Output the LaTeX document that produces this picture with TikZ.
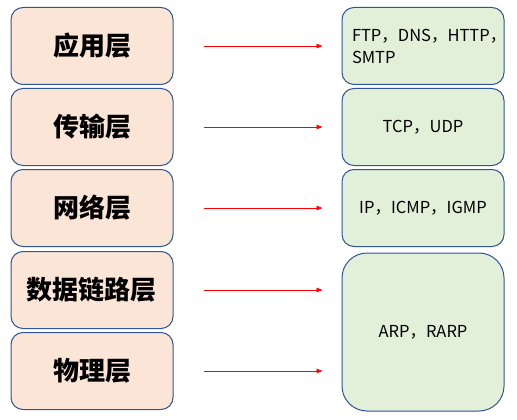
\documentclass[tikz,border=0pt]{standalone}
\usepackage{fontspec}
\setmainfont{Noto Sans CJK SC}
\usetikzlibrary{arrows.meta}
\definecolor{layerfill}{HTML}{FBE5D6}
\definecolor{protofill}{HTML}{E2F0D9}
\definecolor{boxline}{HTML}{2F5597}
\tikzset{
  layer/.style={draw=boxline,fill=layerfill,line width=1pt,rounded corners=12pt,
    minimum width=162pt,minimum height=77pt,font=\fontsize{26}{30}\selectfont\bfseries},
  proto/.style={draw=boxline,fill=protofill,line width=1pt,rounded corners=12pt,
    minimum width=162pt,minimum height=77pt,font=\fontsize{16.5}{22}\selectfont},
  arr/.style={-{Triangle[length=6pt,width=4.5pt]},red,line width=0.8pt,
    shorten <=30pt,shorten >=19pt}
}
\begin{document}
\begin{tikzpicture}[x=1pt,y=-1pt]
\useasboundingbox (0,0) rectangle (517,420);
\foreach \i / \Y / \name in {1/46/应用层,2/127/传输层,3/208/网络层,4/290/数据链路层,5/371/物理层} {
  \node [layer] (l\i) at (92,\Y) {\name};
}

\node [proto,align=left,text width=142pt] (r1) at (423,46) {FTP，DNS，HTTP，\\SMTP};
\node [proto] (r2) at (423,127) {TCP，UDP};
\node [proto] (r3) at (423,208) {IP，ICMP，IGMP};
\node [proto,minimum height=158pt,rounded corners=25pt] (r4) at (423,332) {ARP，RARP};

\foreach \i / \r in {1/r1,2/r2,3/r3,4/r4,5/r4}
  \draw [arr] (l\i.east) -- (l\i.east -| \r.west);
\end{tikzpicture}
\end{document}
